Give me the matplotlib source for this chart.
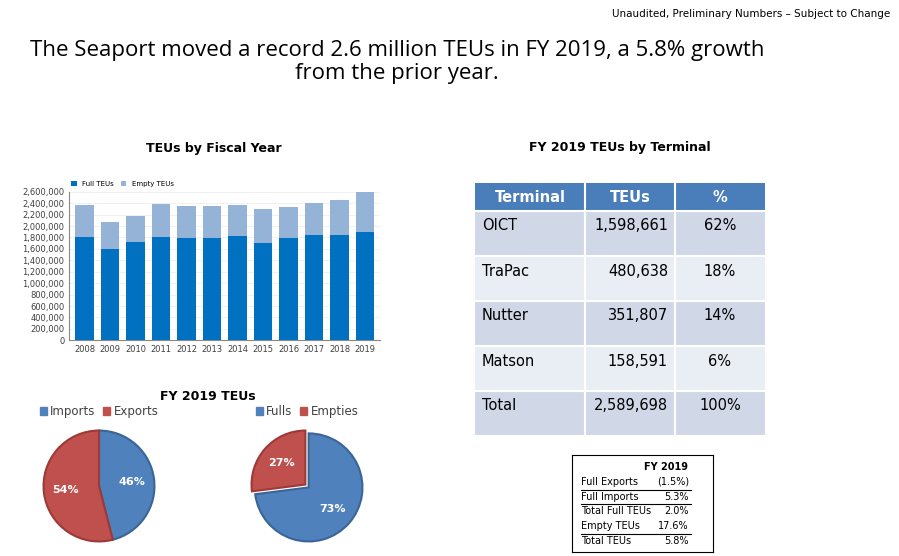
"""
Seaport TEU hisoboti - bitta rasmda grafiklar va jadvallar (matplotlib, Agg backend).
"""
import matplotlib
matplotlib.use("Agg")
import matplotlib.pyplot as plt
import numpy as np
from matplotlib.patches import Rectangle, Patch
from matplotlib.ticker import FuncFormatter

_RANG_FULL = "#0070C0"
_RANG_EMPTY = "#95B3D7"
_RANG_A = "#4F81BD"
_RANG_B = "#C0504D"
_CHETI_A = "#3A6596"
_CHETI_B = "#9C3A37"
_SARLAVHA = "#4A7EBB"

YILLAR = [str(y) for y in range(2008, 2020)]
JAMI = [2370000, 2080000, 2170000, 2390000, 2350000, 2350000, 2370000, 2300000, 2340000, 2400000, 2450000, 2590000]
TOLIQ = [1800000, 1600000, 1720000, 1800000, 1790000, 1790000, 1830000, 1710000, 1790000, 1850000, 1850000, 1890000]

TERMINALLAR = [
    ("OICT", "1,598,661", "62%"),
    ("TraPac", "480,638", "18%"),
    ("Nutter", "351,807", "14%"),
    ("Matson", "158,591", "6%"),
    ("Total", "2,589,698", "100%"),
]

OSISH = [
    ("Full Exports", "(1.5%)", True),
    ("Full Imports", "5.3%", True),
    ("Total Full TEUs", "2.0%", False),
    ("Empty TEUs", "17.6%", True),
    ("Total TEUs", "5.8%", False),
]


def bar_chart(fig):
    """Yillar bo'yicha to'la va bo'sh TEU ustunlari."""
    ax = fig.add_axes([0.077, 0.388, 0.346, 0.267])
    x = np.arange(len(YILLAR))
    bosh = [j - t for j, t in zip(JAMI, TOLIQ)]
    ax.bar(x, TOLIQ, 0.72, color=_RANG_FULL, label="Full TEUs")
    ax.bar(x, bosh, 0.72, bottom=TOLIQ, color=_RANG_EMPTY, label="Empty TEUs")
    ax.set_ylim(0, 2600000)
    ax.set_xlim(-0.6, len(YILLAR) - 0.4)
    ax.set_yticks(range(0, 2600001, 200000))
    ax.yaxis.set_major_formatter(FuncFormatter(lambda v, p: f"{int(v):,}"))
    ax.set_xticks(x)
    ax.set_xticklabels(YILLAR)
    ax.tick_params(labelsize=6, length=0, colors="#404040")
    ax.grid(True, axis="y", color="#EEEEEE", lw=0.6)
    ax.set_axisbelow(True)
    for s in ["top", "right"]:
        ax.spines[s].set_visible(False)
    ax.spines["left"].set_color("#888888")
    ax.spines["bottom"].set_color("#888888")
    ax.legend(loc="lower left", bbox_to_anchor=(-0.01, 1.0), ncol=2, fontsize=5,
              frameon=False, handlelength=0.8, handleheight=0.8, columnspacing=1.0, borderpad=0.2)
    fig.text(0.238, 0.726, "TEUs by Fiscal Year", ha="center", fontsize=9, fontweight="bold")


def pie_chart(fig, rect, qiymatlar, yorliqlar, portlash):
    """Ikki qismli pie."""
    ax = fig.add_axes(rect)
    wedges, _, _ = ax.pie(qiymatlar, colors=[_RANG_A, _RANG_B], startangle=90, counterclock=False,
                          explode=portlash, autopct="%d%%", pctdistance=0.6,
                          wedgeprops=dict(linewidth=1.5),
                          textprops=dict(color="white", fontsize=8, fontweight="bold"))
    wedges[0].set_edgecolor(_CHETI_A)
    wedges[1].set_edgecolor(_CHETI_B)
    ax.axis("equal")
    belgilar = [Patch(color=_RANG_A), Patch(color=_RANG_B)]
    ax.legend(belgilar, yorliqlar, loc="lower center", bbox_to_anchor=(0.5, 0.97), ncol=2, fontsize=8.5,
              frameon=False, handlelength=0.6, handleheight=0.6, columnspacing=0.6, handletextpad=0.3,
              labelcolor="#404040")


def terminal_table(fig):
    """Terminallar bo'yicha jadval."""
    ax = fig.add_axes([475 / 899, 1 - 437 / 556, 290 / 899, 254 / 556])
    ax.set_xlim(475, 765)
    ax.set_ylim(437, 183)
    ax.axis("off")
    chegaralar = [475, 585, 675, 765]
    ax.add_patch(Rectangle((475, 183), 290, 28, color=_SARLAVHA))
    for i, t in enumerate(["Terminal", "TEUs", "%"]):
        ax.text((chegaralar[i] + chegaralar[i + 1]) / 2, 197, t, ha="center", va="center",
                color="white", fontsize=10.5, fontweight="bold")
    y0 = 211
    for i, (nom, teu, foiz) in enumerate(TERMINALLAR):
        rang = "#D0D8E8" if i % 2 == 0 else "#E9EDF4"
        ax.add_patch(Rectangle((475, y0), 290, 45, color=rang))
        ax.text(482, y0 + 15, nom, va="center", fontsize=10.5)
        ax.text(668, y0 + 15, teu, va="center", ha="right", fontsize=10.5)
        ax.text(720, y0 + 15, foiz, va="center", ha="center", fontsize=10.5)
        y0 += 45
    for c in chegaralar[1:-1]:
        ax.plot([c, c], [183, 437], color="white", lw=1.5)
    for r in range(211, 437, 45):
        ax.plot([475, 765], [r, r], color="white", lw=1.5)
    fig.text(620 / 899, 1 - 148 / 556, "FY 2019 TEUs by Terminal", ha="center", va="center",
             fontsize=9, fontweight="bold")


def growth_box(fig):
    """FY 2019 o'sish ko'rsatkichlari."""
    ax = fig.add_axes([572 / 899, 1 - 552 / 556, 141 / 899, 97 / 556])
    ax.set_xlim(572, 713)
    ax.set_ylim(552, 455)
    ax.set_xticks([])
    ax.set_yticks([])
    for s in ax.spines.values():
        s.set_linewidth(0.8)
    ax.text(666, 467, "FY 2019", ha="center", va="center", fontsize=7, fontweight="bold")
    y = 482
    for nom, qiymat, chiziq in OSISH:
        ax.text(581, y, nom, va="center", fontsize=7)
        ax.text(689, y, qiymat, va="center", ha="right", fontsize=7)
        if chiziq:
            ax.plot([581, 691], [y + 7.5, y + 7.5], color="black", lw=0.8)
        y += 14.7


fig = plt.figure(figsize=(8.99, 5.56), dpi=100)
fig.text(0.99, 0.975, "Unaudited, Preliminary Numbers \u2013 Subject to Change", ha="right",
         va="center", fontsize=7.5)
fig.text(0.442, 0.888, "The Seaport moved a record 2.6 million TEUs in FY 2019, a 5.8% growth\nfrom the prior year.",
         ha="center", va="center", fontsize=16, family="Open Sans", linespacing=1.1)
bar_chart(fig)
fig.text(0.231, 0.28, "FY 2019 TEUs", ha="center", fontsize=9, fontweight="bold")
pie_chart(fig, [38 / 899, 1 - 547 / 556, 122 / 899, 122 / 556], [46, 54], ["Imports", "Exports"], (0, 0))
pie_chart(fig, [246 / 899, 1 - 547 / 556, 122 / 899, 122 / 556], [73, 27], ["Fulls", "Empties"], (0, 0.08))
terminal_table(fig)
growth_box(fig)
fig.savefig("out.png", dpi=100)
plt.close(fig)
